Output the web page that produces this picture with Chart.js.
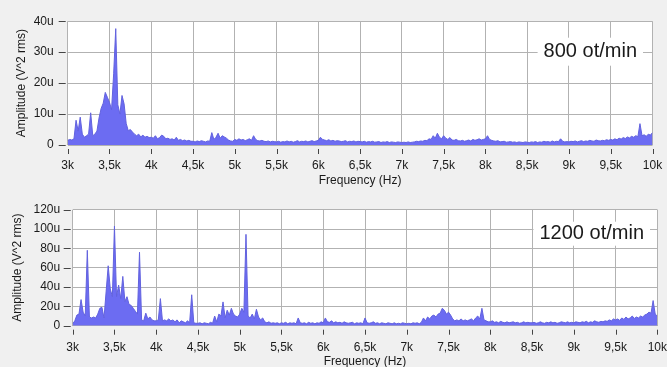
<!DOCTYPE html>
<html>
<head>
<meta charset="utf-8">
<script src="https://cdn.jsdelivr.net/npm/chart.js@4.4.1/dist/chart.umd.min.js"></script>
<style>
  html, body { margin: 0; padding: 0; background: #f0f0f0; overflow: hidden; }
  #wrap { position: relative; width: 667px; height: 367px; }
  canvas { position: absolute; left: 0; }
  #top { top: 0; }
  #bottom { top: 190px; }
</style>
</head>
<body>
<div id="wrap">
  <canvas id="top" width="667" height="190"></canvas>
  <canvas id="bottom" width="667" height="180"></canvas>
</div>
<script>
// spectrum bins: 3000 Hz .. 10000 Hz, one value every 25 Hz (amplitude in u = 1e-6 V^2 rms)
const freqStart = 3000;
const freqStep = 25;

// 800 ot/min, one row per 500 Hz
const amp800 = [
  1.5, 1.8, 1.6, 2, 8, 4.5, 9, 3.5, 2.5, 3, 3.5, 10.4, 3, 3.5, 4.5, 8.7, 11.8, 13.5, 17, 15.4,
  13.8, 11.4, 23, 37.6, 13, 10, 16, 13.3, 7, 4.6, 5, 4.2, 3.5, 3, 3.5, 2.6, 3.2, 2.5, 2.8, 2.4,
  2.5, 2.2, 3, 2, 2.4, 3.2, 2.8, 2, 2.2, 1.8, 2, 1.6, 2.5, 1.5, 1.8, 1.4, 1.6, 1.3, 1.5, 1.2,
  1.2, 1, 1.3, 1.1, 1.4, 1.2, 1, 1.3, 1.2, 4, 1.8, 2.5, 3.8, 2.2, 3, 2.6, 2.2, 1.6, 1.3, 1.2,
  1.8, 1.5, 2, 1.6, 1.8, 1.4, 1.7, 2, 1.5, 3, 1.8, 1.4, 1.3, 1.5, 1.2, 1.1, 1.3, 1, 1.2, 1.1,
  1, 1.2, 0.9, 1.1, 1, 1.3, 1, 1.2, 0.9, 1.1, 1.4, 1, 1.2, 1.1, 1.3, 1, 1.2, 1.4, 1.1, 1.3,
  1.5, 2.5, 1.8, 1.6, 1.4, 1.7, 1.3, 1.5, 1.2, 1.4, 1.3, 1.1, 1.2, 1.4, 1, 1.2, 1.1, 1.3, 1, 1.2,
  1.1, 1, 1.2, 0.9, 1.1, 1, 1.2, 0.9, 1, 1.1, 0.8, 1, 0.9, 1.1, 0.8, 1, 0.9, 0.8, 1, 0.9,
  0.8, 0.9, 0.8, 1, 0.8, 0.9, 1, 1.2, 1.1, 1.3, 1.2, 1.5, 1.4, 2, 1.8, 3, 2.2, 3.8, 2.5, 2,
  3, 2.2, 1.8, 2.4, 1.6, 1.5, 1.8, 1.4, 1.3, 1.5, 1.2, 1.4, 1.6, 1.3, 1.8, 1.5, 1.7, 2, 1.6, 1.8,
  2, 3, 1.8, 1.5, 1.3, 1.2, 1.4, 1, 1.1, 1.2, 0.9, 1, 1.1, 0.9, 1, 0.8, 1, 0.9, 0.8, 1,
  0.9, 0.8, 1, 0.9, 1.1, 0.8, 1, 0.9, 1.2, 1, 1.1, 0.9, 1.3, 1, 1.2, 1.1, 2, 1.2, 1, 1.1,
  1, 1.2, 1.1, 1.3, 1, 1.2, 1.4, 1.1, 1.3, 1.2, 1.5, 1.3, 1.2, 1.6, 1.4, 1.3, 1.5, 1.4, 1.7, 1.5,
  1.8, 1.6, 2, 1.7, 2.2, 1.9, 2.4, 2.1, 2.6, 2.3, 2.8, 2.5, 3, 2.7, 6.9, 3, 3.3, 2.8, 3.5, 3.2,
  4
];

// 1200 ot/min
const amp1200 = [
  2, 5, 11, 12, 27, 14, 10, 78, 9, 8, 9, 8, 12, 18, 19, 8, 35, 62, 38, 30,
  103, 30, 42, 28, 51, 25, 30, 22, 21, 18, 15, 12, 76, 6, 5, 13, 7, 9, 6, 5,
  5, 6, 28, 5, 6, 5, 7, 5, 6, 4, 6, 3, 5, 4, 3, 5, 3, 32, 3, 2.5,
  2.5, 3, 2, 3, 2.5, 2, 3.5, 2.5, 10, 4, 12, 10, 24.6, 8, 16, 11, 18, 12, 10, 9,
  12, 18, 14, 94.5, 10, 8, 12, 7, 17, 9, 6, 8, 4, 3, 4, 2.5, 3, 2.5, 3, 2,
  3, 2.5, 3.5, 2, 3, 2.5, 3, 2, 8, 3, 2.5, 3, 2, 3.5, 2.5, 3, 2, 3, 2.5, 4,
  3, 8, 4, 3.5, 5, 3, 4, 3, 3.5, 2.5, 4, 3, 2.5, 3, 3.5, 2, 3, 2.5, 3, 2,
  8, 3, 2.5, 3, 4, 2.5, 3, 2, 3, 2.5, 2, 3, 2.5, 2, 3, 2, 2.5, 2, 3, 2.5,
  2, 2.5, 2, 3, 2.5, 3, 2, 3.5, 8, 5, 9, 7, 10, 11, 9, 12, 13, 18, 16, 12,
  14, 11, 7, 5, 6, 5, 7, 5, 6, 5, 6, 7, 5, 8, 10, 7, 18, 6, 5, 4,
  4, 5, 3.5, 4, 3, 4.5, 3.5, 3, 4, 3, 3.5, 4, 3, 3.5, 2.5, 3, 4, 3, 3.5, 3,
  3, 3.5, 2.5, 3, 4, 3, 2.5, 3.5, 3, 4, 3, 3.5, 2.5, 3, 4, 3.5, 3, 4, 3, 3.5,
  3, 4, 3.5, 3, 4, 3.5, 4.5, 3, 4, 3.5, 5, 4, 3.5, 4.5, 4, 5, 4.5, 6, 5, 7,
  6, 7, 5.5, 8, 6.5, 9, 7, 8, 10, 7.5, 9, 8, 10, 9, 11, 12, 14, 13, 26, 12,
  10
];

const fillColor = 'rgb(108,108,242)';
const lineColor = 'rgb(98,98,222)';
const gridColor = '#b2b2b2';
const textColor = '#1a1a1a';

Chart.defaults.font.family = '"Liberation Sans", Arial, sans-serif';
Chart.defaults.font.size = 12;
Chart.defaults.color = textColor;

function fmtFreq(v) {
  return (v / 1000).toString().replace('.', ',') + 'k';
}

// white plot area
const plotBg = {
  id: 'plotBg',
  beforeDraw(chart) {
    const a = chart.chartArea, ctx = chart.ctx;
    ctx.save();
    ctx.fillStyle = '#ffffff';
    ctx.fillRect(a.left, a.top, a.right - a.left, a.bottom - a.top);
    ctx.restore();
  }
};

// small tick marks, detached from the plot frame
const outerTicks = {
  id: 'outerTicks',
  afterDraw(chart) {
    const ctx = chart.ctx, a = chart.chartArea;
    const xs = chart.scales.x, ys = chart.scales.y;
    ctx.save();
    ctx.strokeStyle = '#444';
    ctx.lineWidth = 1;
    ctx.beginPath();
    xs.ticks.forEach(t => {
      const px = Math.round(xs.getPixelForValue(t.value)) + 0.5;
      ctx.moveTo(px, a.bottom + 4);
      ctx.lineTo(px, a.bottom + 9);
    });
    ys.ticks.forEach(t => {
      const py = Math.round(ys.getPixelForValue(t.value)) + 0.5;
      ctx.moveTo(a.left - 9, py);
      ctx.lineTo(a.left - 2, py);
    });
    ctx.stroke();
    ctx.restore();
  }
};

// "xxx ot/min" caption with white box
const rpmLabel = {
  id: 'rpmLabel',
  afterDraw(chart, args, opts) {
    const ctx = chart.ctx, a = chart.chartArea;
    ctx.save();
    ctx.font = '20px "Liberation Sans", Arial, sans-serif';
    const w = ctx.measureText(opts.text).width;
    const xr = a.right - opts.right;
    const yc = a.top + opts.dy;
    ctx.fillStyle = '#ffffff';
    ctx.fillRect(xr - w - 6, yc - opts.boxH / 2, w + 12, opts.boxH);
    ctx.fillStyle = textColor;
    ctx.textAlign = 'right';
    ctx.textBaseline = 'middle';
    ctx.fillText(opts.text, xr, yc);
    ctx.restore();
  }
};

function makeChart(id, amps, yMax, yStep, box) {
  const pts = amps.map((v, i) => ({ x: freqStart + i * freqStep, y: v }));
  return new Chart(document.getElementById(id), {
    type: 'line',
    data: {
      datasets: [{
        data: pts,
        fill: 'origin',
        backgroundColor: fillColor,
        borderColor: lineColor,
        borderWidth: 1,
        pointRadius: 0,
        tension: 0
      }]
    },
    options: {
      responsive: false,
      animation: false,
      devicePixelRatio: 1,
      layout: { padding: { left: 0, top: box.top, right: box.right, bottom: 0 } },
      plugins: {
        legend: { display: false },
        tooltip: { enabled: false },
        rpmLabel: box.label
      },
      scales: {
        x: {
          type: 'linear',
          min: 3000,
          max: 10000,
          ticks: { stepSize: 500, padding: box.xTickPad, maxRotation: 0, autoSkip: false, callback: fmtFreq },
          grid: { color: gridColor, drawTicks: false },
          border: { display: false },
          title: { display: true, text: 'Frequency (Hz)', padding: { top: 0, bottom: box.xTitlePad } },
          afterFit: s => { s.height = box.xH; s.paddingLeft = 0; s.paddingRight = 0; }
        },
        y: {
          min: 0,
          max: yMax,
          ticks: { stepSize: yStep, padding: box.yTickPad, callback: v => (v === 0 ? '0' : v + 'u') },
          grid: { color: gridColor, drawTicks: false },
          border: { display: false },
          title: { display: true, text: 'Amplitude (V^2 rms)', padding: { top: box.yTitlePad, bottom: 0 } },
          afterFit: s => { s.width = box.left; }
        }
      }
    },
    plugins: [plotBg, outerTicks, rpmLabel]
  });
}

makeChart('top', amp800, 40, 10, {
  left: 67.7, top: 15, right: 14.5, xH: 45,
  xTickPad: 13, xTitlePad: 1.8, yTitlePad: 14.8, yTickPad: 14,
  label: { text: '800 ot/min', right: 15.5, dy: 30.5, boxH: 28 }
});

makeChart('bottom', amp1200, 120, 20, {
  left: 72.7, top: 5, right: 9.7, xH: 44.3,
  xTickPad: 15, xTitlePad: 0.8, yTitlePad: 10.8, yTickPad: 12.5,
  label: { text: '1200 ot/min', right: 13.3, dy: 24, boxH: 24 }
});
</script>
</body>
</html>
